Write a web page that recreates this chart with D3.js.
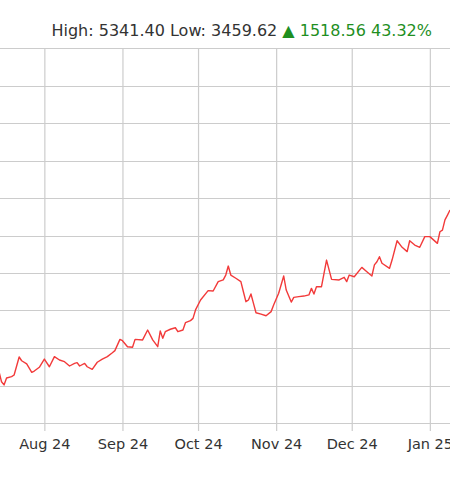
<!DOCTYPE html>
<html>
<head>
<meta charset="utf-8">
<script src="https://cdn.jsdelivr.net/npm/d3@7"></script>
<style>
  body { margin: 0; background: #fff; }
</style>
</head>
<body>
<div id="chart"></div>
<script>
const dates = ["2024-07-14","2024-07-15","2024-07-16","2024-07-17","2024-07-19","2024-07-20","2024-07-22","2024-07-23","2024-07-25","2024-07-27",
  "2024-07-28","2024-07-30","2024-08-01","2024-08-03","2024-08-05","2024-08-07","2024-08-09","2024-08-11","2024-08-13","2024-08-14",
  "2024-08-15","2024-08-17","2024-08-18","2024-08-20","2024-08-22","2024-08-24","2024-08-26","2024-08-28","2024-08-29","2024-08-31",
  "2024-09-01","2024-09-03","2024-09-05","2024-09-06","2024-09-09","2024-09-11","2024-09-13","2024-09-15","2024-09-16","2024-09-17",
  "2024-09-18","2024-09-20","2024-09-22","2024-09-23","2024-09-25","2024-09-26","2024-09-28","2024-09-29","2024-09-30","2024-10-02",
  "2024-10-05","2024-10-07","2024-10-09","2024-10-11","2024-10-12","2024-10-13","2024-10-14","2024-10-16","2024-10-18","2024-10-19",
  "2024-10-20","2024-10-21","2024-10-22","2024-10-23","2024-10-24","2024-10-26","2024-10-28","2024-10-30","2024-10-31","2024-11-02",
  "2024-11-04","2024-11-05","2024-11-07","2024-11-08","2024-11-10","2024-11-12","2024-11-14","2024-11-15","2024-11-16","2024-11-17",
  "2024-11-19","2024-11-20","2024-11-21","2024-11-23","2024-11-26","2024-11-28","2024-11-29","2024-11-30","2024-12-02","2024-12-05",
  "2024-12-07","2024-12-09","2024-12-10","2024-12-11","2024-12-12","2024-12-13","2024-12-16","2024-12-17","2024-12-19","2024-12-21",
  "2024-12-23","2024-12-24","2024-12-26","2024-12-28","2024-12-30","2025-01-01","2025-01-04","2025-01-05","2025-01-06","2025-01-07",
  "2025-01-08","2025-01-09"];
const values = [3674,3620,3603,3640,3647,3656,3752,3732,3715,3670,
  3677,3697,3741,3700,3754,3736,3727,3704,3718,3722,
  3704,3718,3700,3686,3724,3741,3754,3775,3786,3846,
  3839,3807,3804,3846,3843,3896,3843,3807,3891,3852,
  3887,3900,3908,3887,3896,3935,3946,3958,4003,4056,
  4106,4104,4154,4163,4189,4237,4189,4172,4154,4100,
  4047,4056,4088,4038,3988,3981,3972,3994,4029,4092,
  4184,4109,4045,4070,4074,4077,4083,4118,4088,4127,
  4127,4198,4269,4166,4163,4177,4154,4189,4180,4230,
  4207,4184,4243,4260,4287,4252,4225,4269,4372,4337,
  4314,4372,4349,4337,4394,4394,4358,4420,4429,4483,
  4509,4536];
const tickDates = ["2024-08-01","2024-09-01","2024-10-01","2024-11-01","2024-12-01","2025-01-01"];
const yTicks = [3400,3600,3800,4000,4200,4400,4600,4800,5000,5200,5400];
const header = { high: "5341.40", low: "3459.62", change: "1518.56", pct: "43.32%" };

function draw() {
  const width = 450;
  const height = 495;
  const parse = d3.utcParse("%Y-%m-%d");
  const data = dates.map((d, i) => ({ date: parse(d), value: values[i] }));

  const x = d3.scaleUtc()
    .domain([parse("2024-07-14"), parse("2025-01-09")])
    .range([-1, 450]);
  const y = d3.scaleLinear()
    .domain([3400, 5400])
    .range([423, 48]);

  const svg = d3.select('#chart')
    .append('svg')
      .attr('width', width)
      .attr('height', height)
      .style('display', 'block')
      .style('font-family', '"DejaVu Sans", Verdana, sans-serif');

  // horizontal grid
  svg.append('g')
    .selectAll('line')
    .data(yTicks)
    .join('line')
      .attr('x1', 0)
      .attr('x2', width)
      .attr('y1', d => Math.round(y(d)) + 0.5)
      .attr('y2', d => Math.round(y(d)) + 0.5)
      .attr('stroke', '#cccccc')
      .attr('stroke-width', 1.2);

  // vertical grid + bottom ticks
  const xAxis = d3.axisBottom(x)
    .tickValues(tickDates.map(parse))
    .tickSize(383)
    .tickPadding(8)
    .tickFormat(d3.utcFormat("%b %y"));

  const gx = svg.append('g')
    .attr('transform', 'translate(0,48)')
    .call(xAxis);
  gx.select('.domain').remove();
  gx.selectAll('.tick line')
    .attr('stroke', '#cccccc')
    .attr('stroke-width', 1.2);
  gx.selectAll('.tick text')
    .attr('fill', '#333')
    .style('font-size', '14.5px')
    .style('font-family', '"DejaVu Sans", Verdana, sans-serif');

  const line = d3.line()
    .x(d => x(d.date))
    .y(d => y(d.value));

  svg.append('path')
    .datum(data)
    .attr('fill', 'none')
    .attr('stroke', '#f23a3a')
    .attr('stroke-width', 1.4)
    .attr('stroke-linejoin', 'round')
    .attr('d', line);

  // header text
  const t = svg.append('text')
    .attr('x', 432)
    .attr('y', 36)
    .attr('text-anchor', 'end')
    .style('font-size', '16px');
  t.append('tspan').attr('fill', '#333').text(`High: ${header.high} Low: ${header.low} `);
  t.append('tspan').attr('fill', '#1f8f1f').text(`▲ ${header.change} ${header.pct}`);
}
draw()
</script>
</body>
</html>
